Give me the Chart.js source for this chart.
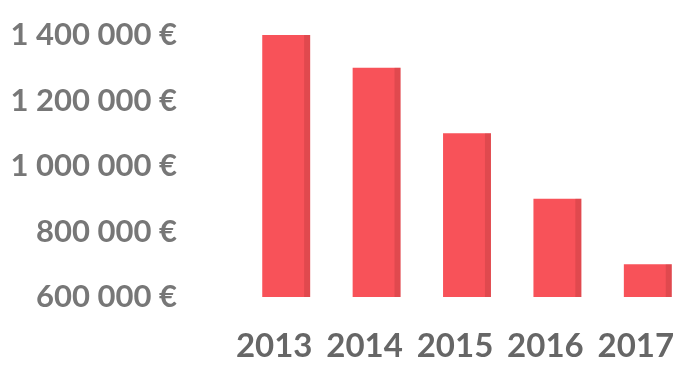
<!DOCTYPE html>
<html>
<head>
<meta charset="utf-8">
<script src="https://cdn.jsdelivr.net/npm/chart.js@4"></script>
<style>
  body { margin: 0; overflow: hidden; background: #fff; }
  #wrap { width: 700px; height: 380px; }
</style>
</head>
<body>
<div id="wrap"><canvas id="grafica"></canvas></div>
<script>
const annees = ['2013', '2014', '2015', '2016', '2017'];
const montants = [1400000, 1300000, 1100000, 900000, 700000];
const axeMin = 600000;
const axeMax = 1400000;
const pas = 200000;

const euros = v => String(v).replace(/\B(?=(\d{3})+(?!\d))/g, ' ') + ' €';

// petite ombre sur le côté droit des barres
const cote = {
    id: 'cote',
    afterDatasetsDraw(chart) {
        const c = chart.ctx;
        const area = chart.chartArea;
        c.save();
        c.beginPath();
        c.rect(area.left, area.top - 20, area.right - area.left, area.bottom - area.top + 20);
        c.clip();
        chart.getDatasetMeta(0).data.forEach(b => {
            const droite = b.x + b.width / 2;
            c.fillStyle = 'rgba(140, 40, 40, 0.22)';
            c.fillRect(droite - 6, b.y, 6, b.base - b.y);
        });
        c.restore();
    }
};

const ctx = document.getElementById('grafica').getContext('2d');
const grafica = new Chart(ctx, {
    type: 'bar',
    data: {
        labels: annees,
        datasets: [{
            label: '',
            data: montants,
            backgroundColor: '#f85259',
            borderWidth: 0,
            categoryPercentage: 1,
            barPercentage: 0.53
        }]
    },
    options: {
        responsive: true,
        maintainAspectRatio: false,
        animation: false,
        layout: { padding: { top: 35, right: 7, left: 0, bottom: 0 } },
        plugins: { legend: { display: false }, tooltip: { enabled: false } },
        scales: {
            x: {
                grid: { display: false },
                border: { display: false },
                ticks: {
                    color: '#666666',
                    font: { family: 'Lato', size: 33, weight: 'bold' },
                    padding: 22,
                    labelOffset: -12,
                    maxRotation: 0,
                    minRotation: 0,
                    autoSkip: false
                },
                afterFit: s => { s.height = 83; s.paddingLeft = 0; s.paddingRight = 0; }
            },
            y: {
                min: axeMin,
                max: axeMax,
                grid: { display: false },
                border: { display: false },
                ticks: {
                    stepSize: pas,
                    color: '#777777',
                    font: { family: 'Lato', size: 31, weight: 'bold' },
                    padding: 56,
                    callback: v => euros(v)
                },
                afterFit: s => { s.width = 241; s.paddingTop = 0; s.paddingBottom = 0; }
            }
        }
    },
    plugins: [cote]
});
</script>
</body>
</html>
